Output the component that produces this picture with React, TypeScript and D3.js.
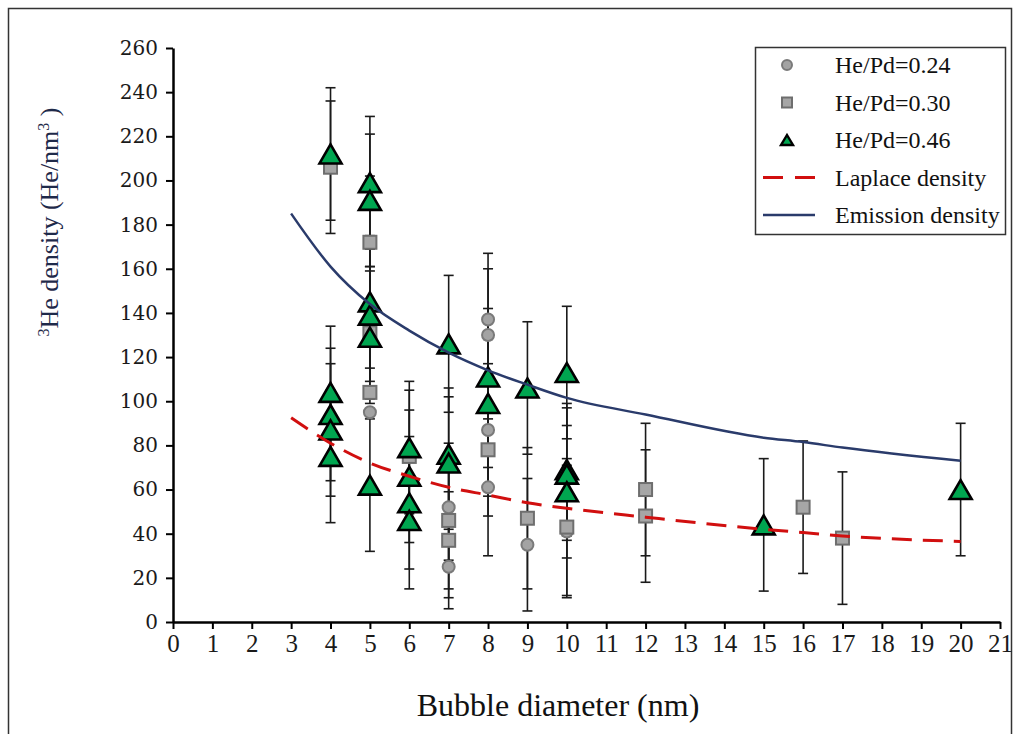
import React, { useEffect, useRef } from "react";
import * as d3 from "d3";

// He/Pd = 0.24 (grey circles)
const p24X = [5, 7, 7, 8, 8, 8, 8, 9, 10];
const p24Y = [95, 52, 25, 137, 130, 87, 61, 35, 41];
const p24Err = [0, 24, 19, 30, 30, 30, 31, 30, 30];

// He/Pd = 0.30 (grey squares)
const p30X = [4, 5, 5, 5, 6, 7, 7, 8, 9, 10, 12, 12, 16, 17];
const p30Y = [206, 172, 131, 104, 75, 46, 37, 78, 47, 43, 60, 48, 52, 38];
const p30Err = [30, 30, 30, 0, 30, 35, 22, 30, 32, 31, 30, 30, 30, 30];

// He/Pd = 0.46 (green triangles)
const p46X = [4, 4, 4, 4, 4, 5, 5, 5, 5, 5, 5, 6, 6, 6, 6, 7, 7, 7, 8, 8, 9, 10, 10, 10, 10, 15, 20];
const p46Y = [212, 104, 94, 87, 75, 199, 191, 145, 139, 129, 62, 79, 66, 54, 46, 126, 76, 72, 111, 99, 106, 113, 69, 67, 59, 44, 60];
const p46Err = [30, 30, 30, 30, 30, 30, 30, 30, 30, 30, 30, 30, 30, 30, 31, 31, 30, 30, 31, 29, 30, 30, 30, 30, 30, 30, 30];

// model curves
const curveX = [3, 4, 5, 6, 7, 8, 9, 10, 12, 15, 16, 17, 20];
const laplaceY = [92.5, 81, 72, 66, 61, 57.5, 54, 51.5, 47.5, 42, 40.5, 39, 36.5];
const emissionY = [185, 161, 144, 132, 122, 114, 107.5, 101.5, 94, 83.5, 81.5, 79, 73];

const xTicks = d3.range(0, 22, 1);
const yTicks = d3.range(0, 261, 20);

const legendLabels = ["He/Pd=0.24", "He/Pd=0.30", "He/Pd=0.46", "Laplace density", "Emission density"];

const W = 1018,
  H = 734;
const serif = "Liberation Serif";
const green = "#00a650";
const red = "#d10f0f";
const navy = "#2a3b6b";

function triPath(w: number, h: number) {
  return `M0,${-h / 2}L${w / 2},${h / 2}L${-w / 2},${h / 2}Z`;
}

export default function App() {
  const ref = useRef<SVGSVGElement>(null);

  useEffect(() => {
    const svg = d3.select(ref.current);
    svg.selectAll("*").remove();

    const x = d3.scaleLinear().domain([0, 21]).range([173, 1000]);
    const y = d3.scaleLinear().domain([0, 260]).range([622, 48]);

    // outer frame
    svg
      .append("rect")
      .attr("x", 8.5)
      .attr("y", 8.5)
      .attr("width", 1003)
      .attr("height", 760)
      .attr("fill", "white")
      .attr("stroke", "#333")
      .attr("stroke-width", 1.5);

    // axes
    const yAxis = svg
      .append("g")
      .attr("transform", `translate(${x(0)},0)`)
      .call(d3.axisLeft(y).tickValues(yTicks).tickSize(7).tickSizeOuter(0).tickPadding(8));
    yAxis.select(".domain").attr("stroke", "#000").attr("stroke-width", 2.5);
    yAxis.selectAll(".tick line").attr("stroke", "#000").attr("stroke-width", 2);
    yAxis
      .selectAll(".tick text")
      .style("font-family", "DejaVu Serif")
      .style("font-size", "20px")
      .attr("fill", "#1a1a1a");

    const xAxis = svg
      .append("g")
      .attr("transform", `translate(0,${y(0)})`)
      .call(d3.axisBottom(x).tickValues(xTicks).tickSize(7).tickSizeOuter(0).tickPadding(5));
    xAxis.select(".domain").attr("stroke", "#000").attr("stroke-width", 2.5);
    xAxis.selectAll(".tick line").attr("stroke", "#000").attr("stroke-width", 2);
    xAxis
      .selectAll(".tick text")
      .style("font-family", serif)
      .style("font-size", "25px")
      .attr("fill", "#1a1a1a");

    // axis titles
    const yt = svg
      .append("text")
      .attr("transform", `translate(58,222) rotate(-90)`)
      .attr("text-anchor", "middle")
      .style("font-family", serif)
      .style("font-size", "26px")
      .attr("fill", "#1f2a4a");
    yt.append("tspan").style("font-size", "16px").attr("dy", -9).text("3");
    yt.append("tspan").attr("dy", 9).text("He density (He/nm");
    yt.append("tspan").style("font-size", "16px").attr("dy", -9).text("3");
    yt.append("tspan").attr("dy", 9).text(" )");

    svg
      .append("text")
      .attr("x", 558)
      .attr("y", 716)
      .attr("text-anchor", "middle")
      .style("font-family", serif)
      .style("font-size", "32px")
      .attr("fill", "#111")
      .text("Bubble diameter (nm)");

    // error bars
    const allErr = [
      ...p24X.map((v, i) => ({ x: v, y: p24Y[i], e: p24Err[i] })),
      ...p30X.map((v, i) => ({ x: v, y: p30Y[i], e: p30Err[i] })),
      ...p46X.map((v, i) => ({ x: v, y: p46Y[i], e: p46Err[i] }))
    ].filter(d => d.e > 0);
    const eg = svg.append("g").attr("stroke", "#1a1a1a").attr("stroke-width", 1.6);
    allErr.forEach(d => {
      eg.append("line")
        .attr("x1", x(d.x)).attr("x2", x(d.x))
        .attr("y1", y(d.y + d.e)).attr("y2", y(d.y - d.e));
      [d.y + d.e, d.y - d.e].forEach(v => {
        eg.append("line")
          .attr("x1", x(d.x) - 5).attr("x2", x(d.x) + 5)
          .attr("y1", y(v)).attr("y2", y(v));
      });
    });

    // markers
    svg
      .append("g")
      .selectAll("circle")
      .data(p24X.map((v, i) => [v, p24Y[i]]))
      .join("circle")
      .attr("cx", d => x(d[0]))
      .attr("cy", d => y(d[1]))
      .attr("r", 6)
      .attr("fill", "#a3a3a3")
      .attr("stroke", "#7a7a7a")
      .attr("stroke-width", 2);

    svg
      .append("g")
      .selectAll("rect")
      .data(p30X.map((v, i) => [v, p30Y[i]]))
      .join("rect")
      .attr("x", d => x(d[0]) - 6.5)
      .attr("y", d => y(d[1]) - 6.5)
      .attr("width", 13)
      .attr("height", 13)
      .attr("fill", "#a6a6a6")
      .attr("stroke", "#6e6e6e")
      .attr("stroke-width", 2);

    svg
      .append("g")
      .selectAll("path")
      .data(p46X.map((v, i) => [v, p46Y[i]]))
      .join("path")
      .attr("d", triPath(22, 19))
      .attr("transform", d => `translate(${x(d[0])},${y(d[1])})`)
      .attr("fill", green)
      .attr("stroke", "#000")
      .attr("stroke-width", 2.6)
      .attr("stroke-linejoin", "miter");

    // model curves
    const line = d3
      .line<number>()
      .x((_, i) => x(curveX[i]))
      .y(d => y(d))
      .curve(d3.curveMonotoneX);

    svg
      .append("path")
      .attr("d", line(laplaceY))
      .attr("fill", "none")
      .attr("stroke", red)
      .attr("stroke-width", 3)
      .attr("stroke-dasharray", "20,11");

    svg
      .append("path")
      .attr("d", line(emissionY))
      .attr("fill", "none")
      .attr("stroke", navy)
      .attr("stroke-width", 2.5);

    // legend
    const lg = svg.append("g");
    lg.append("rect")
      .attr("x", 755.5)
      .attr("y", 47.5)
      .attr("width", 250)
      .attr("height", 187)
      .attr("fill", "white")
      .attr("stroke", "#333")
      .attr("stroke-width", 1.5);
    const rowY = (i: number) => 65 + i * 37.5;
    const sx = 787;
    lg.append("circle")
      .attr("cx", sx).attr("cy", rowY(0)).attr("r", 5)
      .attr("fill", "#a3a3a3").attr("stroke", "#7a7a7a").attr("stroke-width", 2);
    lg.append("rect")
      .attr("x", sx - 5).attr("y", rowY(1) - 5).attr("width", 10).attr("height", 10)
      .attr("fill", "#a6a6a6").attr("stroke", "#6e6e6e").attr("stroke-width", 2);
    lg.append("path")
      .attr("d", triPath(12, 10))
      .attr("transform", `translate(${sx},${rowY(2)})`)
      .attr("fill", green).attr("stroke", "#000").attr("stroke-width", 2.4);
    lg.append("line")
      .attr("x1", 763).attr("x2", 815).attr("y1", rowY(3)).attr("y2", rowY(3))
      .attr("stroke", red).attr("stroke-width", 3).attr("stroke-dasharray", "20,12");
    lg.append("line")
      .attr("x1", 763).attr("x2", 815).attr("y1", rowY(4)).attr("y2", rowY(4))
      .attr("stroke", navy).attr("stroke-width", 2.5);
    legendLabels.forEach((t, i) => {
      lg.append("text")
        .attr("x", 835)
        .attr("y", rowY(i))
        .attr("dy", "0.35em")
        .style("font-family", serif)
        .style("font-size", "24px")
        .attr("fill", "#111")
        .text(t);
    });
  }, []);

  return (
    <svg
      ref={ref}
      width={W}
      height={H}
      style={{ position: "absolute", left: 0, top: 0, background: "white" }}
    />
  );
}
